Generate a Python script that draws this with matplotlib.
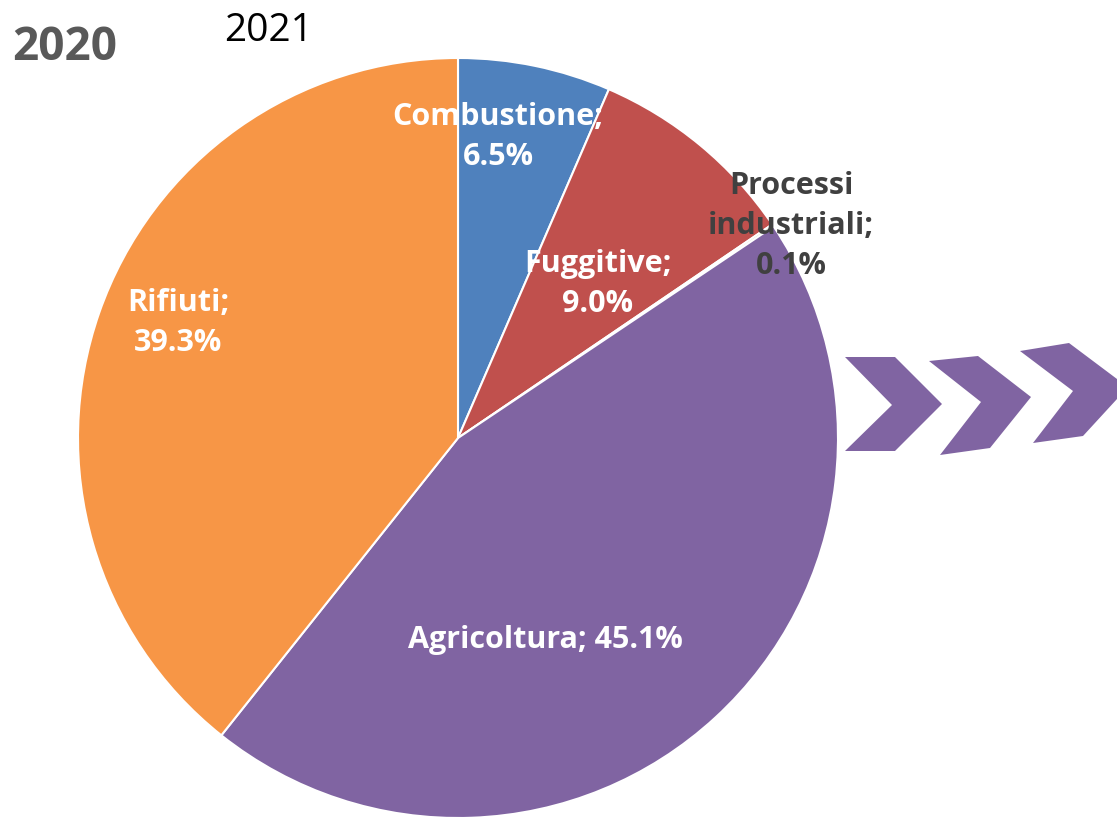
import matplotlib
matplotlib.use("Agg")
from matplotlib import pyplot as plt
from matplotlib.patches import Polygon

# data
sectors = ["Combustione", "Fuggitive", "Processi industriali", "Agricoltura", "Rifiuti"]
shares = [6.5, 9.0, 0.1, 45.1, 39.3]
colors = ["#4f81bd", "#c0504d", "#9bbb59", "#8064a2", "#f79646"]

# label text, pixel position (x, y from top) and colour
label_text = ["Combustione;\n6.5%", "Fuggitive;\n9.0%", "Processi\nindustriali;\n0.1%",
              "Agricoltura; 45.1%", "Rifiuti;\n39.3%"]
label_pos = [(498, 137), (598, 284), (791, 226), (545, 640), (178, 323)]
label_col = ["white", "white", "#404040", "white", "white"]

W, H = 1117, 820


def py(y):
    return H - y


fig = plt.figure(figsize=(W / 100, H / 100), dpi=100)
ax = fig.add_axes([0, 0, 1, 1])

ax.pie(shares, colors=colors, startangle=90, counterclock=False,
       center=(458, py(439)), radius=380, frame=True,
       wedgeprops=dict(edgecolor="white", linewidth=1.5))
ax.set_xlim(0, W)
ax.set_ylim(0, H)
ax.set_aspect("equal")
ax.axis("off")

for txt, (x, y), c in zip(label_text, label_pos, label_col):
    ax.text(x, py(y), txt, ha="center", va="center", color=c,
            fontsize=22, fontweight="bold", family="Open Sans", linespacing=1.45)

ax.text(12, py(47), "2020", ha="left", va="center", color="#595959",
        fontsize=33, fontweight="bold", family="Open Sans")
ax.text(224, py(31), "2021", ha="left", va="center", color="black",
        fontsize=28, family="Open Sans")

# decorative chevrons
chevrons = [
    [(845, 358), (895, 358), (942, 405), (895, 452), (845, 452), (892, 406)],
    [(929, 362), (978, 357), (1031, 398), (990, 449), (940, 456), (981, 403)],
    [(1020, 352), (1069, 344), (1117, 380), (1117, 400), (1083, 437), (1033, 444), (1073, 392)],
]
for pts in chevrons:
    ax.add_patch(Polygon([(x, py(y)) for x, y in pts], closed=True,
                         facecolor="#8064a2", edgecolor="none"))

fig.savefig("out.png", dpi=100)
